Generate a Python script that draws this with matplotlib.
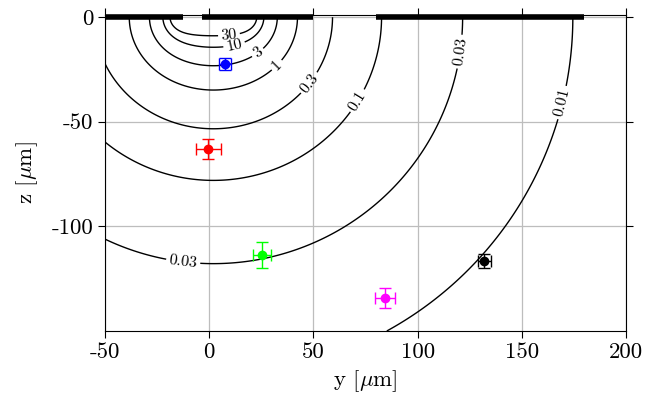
import numpy as np
import matplotlib
matplotlib.use('Agg')
import matplotlib.pyplot as plt

plt.rcParams['font.family'] = 'cmr10'
plt.rcParams['mathtext.fontset'] = 'cm'
plt.rcParams['axes.unicode_minus'] = False
plt.rcParams['axes.formatter.use_mathtext'] = True

# contour levels and labels
levels = [0.01, 0.03, 0.1, 0.3, 1, 3, 10, 30]
level_labels = ['0.01', '0.03', '0.1', '0.3', '1', '3', '10', '30']

# field source: strip at z=0, power-law decay
src_start, src_end = -14.0, 18.0
decay_exp = 2.95
far_strength = 3.9e4

# electrodes on the surface (y ranges, um)
electrodes = [(-50, -12.5), (-3.4, 50), (80, 180)]

# measured points: y, z, y error, z error, colour
pt_y = [7.7, -0.5, 25.4, 84.5, 132.0]
pt_z = [-22.4, -62.9, -113.8, -134.3, -116.7]
pt_yerr = [3.0, 6.0, 4.3, 4.8, 3.0]
pt_zerr = [3.0, 4.7, 6.2, 4.8, 3.3]
pt_col = ['#0000ff', '#ff0000', '#00ff00', '#ff00ff', '#000000']

# tick values / labels
xticks = [-50, 0, 50, 100, 150, 200]
xticklabels = ['-50', '0', '50', '100', '150', '200']
yticks = [-100, -50, 0]
yticklabels = ['-100', '-50', '0']

# where the contour labels sit (level, y, z)
label_at = [(30, 9, -3), (10, 11, -9), (3, 20, -12.5), (1, 29, -19.5),
            (0.3, 46, -30), (0.1, 70, -39.5), (0.03, 118, -16),
            (0.01, 166, -40), (0.03, -12.5, -117)]

# field on a grid
yy = np.linspace(-50, 200, 501)
zz = np.linspace(-150, -0.05, 301)
Y, Z = np.meshgrid(yy, zz)
s = np.linspace(src_start, src_end, 161)
F = np.zeros_like(Y)
for si in s:
    F += ((Y - si) ** 2 + Z ** 2) ** (-decay_exp / 2)
F *= far_strength / len(s)

fig = plt.figure(figsize=(6.57, 4.01), dpi=100)
ax = fig.add_axes([105 / 657, 1 - 331 / 401, 521 / 657, 316 / 401])

ax.grid(True, color='#bdbdbd', lw=0.9)
ax.set_axisbelow(True)

cs = ax.contour(Y, Z, F, levels=levels, colors='k', linewidths=1.0)
fmt = dict(zip(levels, level_labels))

# snap each label position onto its own level's line
paths = cs.get_paths()
manual = []
for lev, ly, lz in label_at:
    v = paths[levels.index(lev)].vertices
    k = np.argmin((v[:, 0] - ly) ** 2 + (v[:, 1] - lz) ** 2)
    manual.append((v[k, 0], v[k, 1]))
ax.clabel(cs, fmt=fmt, fontsize=11.5, inline=True, inline_spacing=3,
          manual=manual)

for a, b in electrodes:
    ax.plot([a, b], [0, 0], color='k', lw=4, solid_capstyle='butt',
            clip_on=False, zorder=5)

for i in range(len(pt_y)):
    ax.errorbar(pt_y[i], pt_z[i], xerr=pt_yerr[i], yerr=pt_zerr[i],
                fmt='o', color=pt_col[i], ms=6, capsize=4, elinewidth=1,
                capthick=1, zorder=6)

ax.set_xlim(-50, 200)
ax.set_ylim(-150, 1)
ax.set_xticks(xticks)
ax.set_xticklabels(xticklabels)
ax.set_yticks(yticks)
ax.set_yticklabels(yticklabels)
ax.tick_params(direction='out', length=5, width=0.8, labelsize=16.5,
               top=True, right=True)
for sp in ax.spines.values():
    sp.set_linewidth(0.8)

ax.set_xlabel(r'y [$\mu$m]', fontsize=16.5, labelpad=4)
ax.set_ylabel(r'z [$\mu$m]', fontsize=16.5, labelpad=8)

fig.savefig('out.png', dpi=100)
